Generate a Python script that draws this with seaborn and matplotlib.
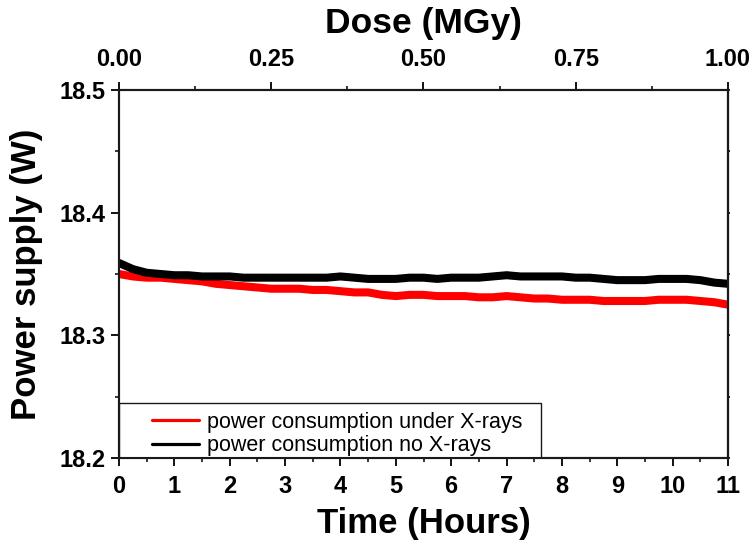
import numpy as np
import pandas as pd
import matplotlib
matplotlib.use("Agg")
import matplotlib.pyplot as plt
from matplotlib.ticker import MultipleLocator, FixedLocator, NullFormatter
from matplotlib.lines import Line2D
from matplotlib.patches import Rectangle
import seaborn as sns

# Measured power draw (W), sampled every quarter hour
hours = [0.0, 0.25, 0.5, 0.75, 1.0, 1.25, 1.5, 1.75, 2.0, 2.25, 2.5, 2.75,
         3.0, 3.25, 3.5, 3.75, 4.0, 4.25, 4.5, 4.75, 5.0, 5.25, 5.5, 5.75,
         6.0, 6.25, 6.5, 6.75, 7.0, 7.25, 7.5, 7.75, 8.0, 8.25, 8.5, 8.75,
         9.0, 9.25, 9.5, 9.75, 10.0, 10.25, 10.5, 10.75, 11.0]

power_xray = [18.350, 18.348, 18.347, 18.347, 18.346, 18.345, 18.344, 18.342,
              18.341, 18.340, 18.339, 18.338, 18.338, 18.338, 18.337, 18.337,
              18.336, 18.335, 18.335, 18.333, 18.332, 18.333, 18.333, 18.332,
              18.332, 18.332, 18.331, 18.331, 18.332, 18.331, 18.330, 18.330,
              18.329, 18.329, 18.329, 18.328, 18.328, 18.328, 18.328, 18.329,
              18.329, 18.329, 18.328, 18.327, 18.325]

power_no_xray = [18.359, 18.354, 18.351, 18.350, 18.349, 18.349, 18.348, 18.348,
                 18.348, 18.347, 18.347, 18.347, 18.347, 18.347, 18.347, 18.347,
                 18.348, 18.347, 18.346, 18.346, 18.346, 18.347, 18.347, 18.346,
                 18.347, 18.347, 18.347, 18.348, 18.349, 18.348, 18.348, 18.348,
                 18.348, 18.347, 18.347, 18.346, 18.345, 18.345, 18.345, 18.346,
                 18.346, 18.346, 18.345, 18.343, 18.342]

series_labels = ["power consumption under X-rays", "power consumption no X-rays"]
series_colors = ["#ff0000", "#000000"]

dose_ticks = [0.0, 0.25, 0.5, 0.75, 1.0]
dose_tick_labels = ["0.00", "0.25", "0.50", "0.75", "1.00"]
time_ticks = list(range(0, 12))
power_ticks = [18.2, 18.3, 18.4, 18.5]

df = pd.DataFrame({
    "Time": hours * 2,
    "Power": power_xray + power_no_xray,
    "Series": [series_labels[0]] * len(hours) + [series_labels[1]] * len(hours),
})

sns.set_style("ticks")
plt.rcParams["font.family"] = ["Liberation Sans", "DejaVu Sans"]
plt.rcParams.update({
    "text.color": "black",
    "axes.labelcolor": "black",
    "xtick.color": "black",
    "ytick.color": "black",
    "axes.edgecolor": "black",
})

fig = plt.figure(figsize=(7.56, 5.48), dpi=100)
ax = fig.add_axes([119 / 756, 1 - 458 / 548, (728 - 119) / 756, (458 - 90) / 548])

sns.lineplot(data=df, x="Time", y="Power", hue="Series",
             palette=dict(zip(series_labels, series_colors)),
             linewidth=5.8, ax=ax, legend=False, zorder=3)

ax.set_xlim(0, 11)
ax.set_ylim(18.2, 18.5)
ax.xaxis.set_major_locator(FixedLocator(time_ticks))
ax.xaxis.set_minor_locator(MultipleLocator(0.5))
ax.yaxis.set_major_locator(FixedLocator(power_ticks))
ax.yaxis.set_minor_locator(MultipleLocator(0.05))
ax.set_yticklabels([f"{v:.1f}" for v in power_ticks])

for sp in ax.spines.values():
    sp.set_visible(True)
    sp.set_color("#1a1a1a")
    sp.set_linewidth(1.5)

ax.tick_params(axis="x", which="major", direction="out", length=5.5, width=1.3,
               pad=7, labelsize=17, top=False)
ax.tick_params(axis="x", which="minor", direction="out", length=3, width=1.1, top=False)
ax.tick_params(axis="y", which="major", direction="out", length=6, width=1.3,
               pad=3.5, labelsize=17, right=False)
ax.tick_params(axis="y", which="minor", direction="out", length=3, width=1.1, right=False)
for lbl in ax.get_xticklabels() + ax.get_yticklabels():
    lbl.set_fontweight("bold")

ax.set_xlabel("Time (Hours)", fontsize=25, fontweight="bold", labelpad=6)
ax.set_ylabel("Power supply (W)", fontsize=25, fontweight="bold", labelpad=12)

# Short marks on the right-hand frame
right = ax.secondary_yaxis("right")
right.yaxis.set_major_locator(FixedLocator(power_ticks))
right.yaxis.set_minor_locator(MultipleLocator(0.05))
right.yaxis.set_major_formatter(NullFormatter())
right.tick_params(axis="y", which="both", direction="out", length=1.5, width=1.2)
right.spines["right"].set_linewidth(1.5)
right.spines["right"].set_color("#1a1a1a")

# Dose axis along the top
top = ax.twiny()
top.set_xlim(0, 1)
top.xaxis.set_major_locator(FixedLocator(dose_ticks))
top.xaxis.set_minor_locator(MultipleLocator(0.125))
top.set_xticklabels(dose_tick_labels)
top.tick_params(axis="x", which="major", direction="out", length=5.5, width=1.3,
                pad=8, labelsize=17)
top.tick_params(axis="x", which="minor", direction="out", length=3, width=1.1)
for lbl in top.get_xticklabels():
    lbl.set_fontweight("bold")
top.set_xlabel("Dose (MGy)", fontsize=25.5, fontweight="bold", labelpad=11)
for sp in top.spines.values():
    sp.set_color("#1a1a1a")
    sp.set_linewidth(1.5)

# Legend box in the lower-left corner
ax.add_patch(Rectangle((0, 0), (541 - 119) / 609, (458 - 403) / 368,
                       transform=ax.transAxes, facecolor="white",
                       edgecolor="#1a1a1a", linewidth=1.0, zorder=4))
handles = [Line2D([], [], color=c, linewidth=2.3) for c in series_colors]
leg = ax.legend(handles, series_labels, loc="lower left",
                bbox_to_anchor=((152 - 119) / 609, 1.5 / 368),
                borderaxespad=0, borderpad=0, fontsize=15.5, frameon=False,
                handlelength=2.2, handletextpad=0.35, labelspacing=0.12)
leg.set_zorder(5)

fig.savefig("out.png", dpi=100)
